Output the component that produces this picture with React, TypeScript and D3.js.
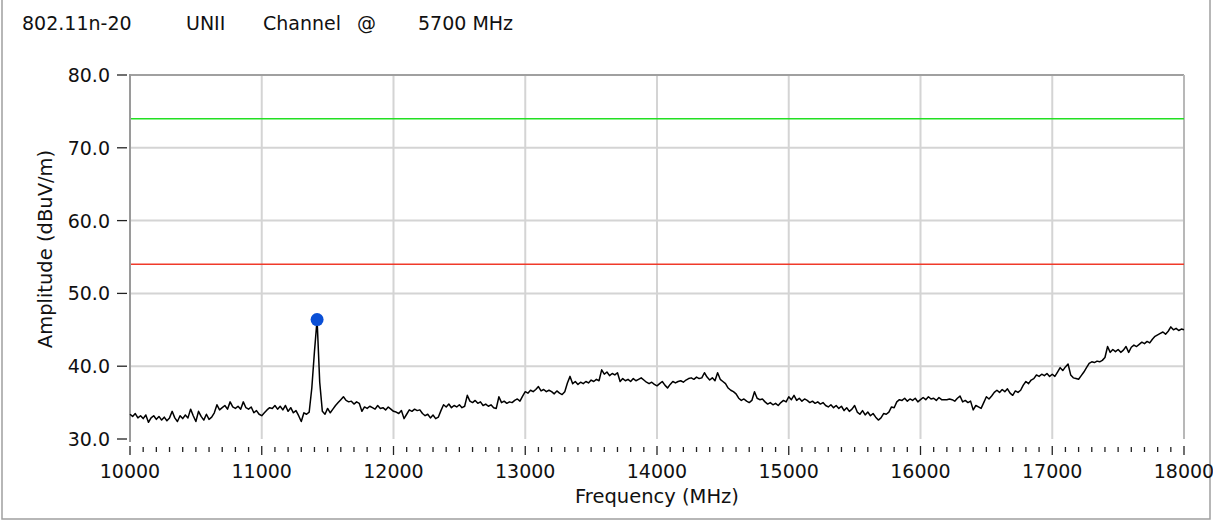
import React from "react";
import * as d3 from "d3";

// ---- data ----
const TITLE_PARTS = ["802.11n-20", "UNII", "Channel", "@", "5700 MHz"];
const X_LABEL = "Frequency (MHz)";
const Y_LABEL = "Amplitude (dBuV/m)";
const X_TICKS = [10000, 11000, 12000, 13000, 14000, 15000, 16000, 17000, 18000];
const Y_TICKS = [30, 40, 50, 60, 70, 80];
const Y_TICK_LABELS = ["30.0", "40.0", "50.0", "60.0", "70.0", "80.0"];
const FREQ_START = 10000;
const FREQ_STEP = 20;
const LIMIT_VALUES = [74, 54]; // green (peak), red (average)
const PEAK_MARKER = [11420, 46.4];

// amplitude trace, one value per 20 MHz, rows of 10 (200 MHz)
const AMPLITUDE = [
  33.4, 33.1, 33.5, 32.9, 33.2, 32.8, 33.3, 32.3, 32.9, 33.2, // 10000
  32.7, 33.1, 32.6, 33.0, 32.5, 32.9, 33.8, 32.9, 32.4, 33.2, // 10200
  32.8, 33.3, 32.9, 34.1, 33.2, 32.4, 33.8, 33.1, 32.6, 33.4, // 10400
  32.7, 33.0, 33.6, 34.7, 34.0, 34.3, 34.6, 34.1, 35.1, 34.4, // 10600
  34.2, 34.5, 34.1, 35.1, 34.3, 34.1, 34.4, 33.6, 33.9, 33.4, // 10800
  33.2, 33.6, 34.0, 34.3, 34.2, 34.6, 34.1, 34.5, 34.0, 34.6, // 11000
  33.8, 34.3, 33.6, 33.9, 33.2, 32.4, 33.6, 33.4, 33.7, 37.0, // 11200
  42.0, 46.4, 37.8, 33.8, 33.4, 34.2, 33.6, 34.1, 34.6, 35.0, // 11400
  35.4, 35.8, 35.3, 35.1, 35.2, 34.8, 35.1, 34.9, 33.8, 34.4, // 11600
  34.2, 34.5, 34.3, 34.1, 34.6, 34.2, 34.3, 34.0, 34.4, 34.1, // 11800
  33.8, 33.7, 33.5, 33.9, 32.8, 33.4, 34.0, 33.8, 34.1, 33.9, // 12000
  34.0, 33.5, 33.2, 33.4, 32.9, 33.3, 32.8, 33.0, 33.9, 34.7, // 12200
  34.4, 34.8, 34.3, 34.6, 34.4, 34.7, 34.3, 34.5, 36.0, 35.2, // 12400
  35.0, 35.3, 34.9, 35.1, 34.6, 34.8, 34.5, 34.7, 34.3, 34.2, // 12600
  35.8, 35.0, 35.2, 34.9, 35.1, 35.0, 35.3, 35.5, 35.2, 35.9, // 12800
  36.5, 36.3, 36.7, 36.5, 36.8, 37.2, 36.6, 36.8, 36.5, 36.7, // 13000
  36.5, 36.2, 36.6, 36.3, 36.1, 36.5, 37.7, 38.6, 37.6, 37.9, // 13200
  37.5, 37.8, 37.6, 37.9, 37.7, 38.1, 37.9, 38.2, 38.0, 39.5, // 13400
  38.9, 39.2, 38.7, 39.0, 38.8, 39.1, 37.9, 38.3, 38.0, 38.2, // 13600
  37.9, 38.3, 38.0, 38.2, 38.4, 38.1, 37.8, 37.6, 37.8, 37.5, // 13800
  37.3, 37.6, 37.9, 37.4, 37.0, 37.5, 37.9, 37.7, 37.9, 38.0, // 14000
  37.8, 38.1, 38.3, 38.4, 38.2, 38.5, 38.3, 38.4, 39.1, 38.5, // 14200
  38.1, 38.4, 38.0, 39.1, 38.2, 37.9, 37.6, 37.0, 36.7, 36.5, // 14400
  36.2, 35.6, 35.3, 35.5, 35.2, 35.0, 35.3, 36.5, 35.6, 35.4, // 14600
  35.5, 35.1, 34.8, 35.0, 34.7, 34.9, 34.6, 35.0, 35.3, 35.1, // 14800
  35.8, 35.4, 36.0, 35.3, 35.6, 35.2, 35.5, 35.3, 35.0, 35.2, // 15000
  34.9, 35.1, 34.8, 35.0, 34.6, 34.4, 34.7, 34.3, 34.6, 34.2, // 15200
  34.5, 33.9, 34.3, 33.8, 34.1, 34.6, 33.7, 33.4, 33.9, 33.3, // 15400
  33.7, 33.2, 33.5, 33.0, 32.6, 32.9, 33.5, 33.4, 33.7, 34.4, // 15600
  34.3, 35.1, 35.4, 35.3, 35.6, 35.2, 35.5, 35.3, 35.6, 35.1, // 15800
  35.4, 35.7, 35.4, 35.8, 35.5, 35.6, 35.3, 35.7, 35.4, 35.4, // 16000
  35.4, 35.5, 35.4, 35.2, 35.6, 35.9, 35.1, 35.3, 35.0, 35.2, // 16200
  34.0, 34.6, 34.4, 34.2, 35.0, 35.8, 35.5, 35.9, 36.4, 36.7, // 16400
  36.4, 36.8, 36.5, 36.9, 36.3, 36.0, 36.6, 36.4, 36.7, 37.4, // 16600
  37.9, 37.6, 38.1, 38.3, 38.8, 38.6, 38.9, 38.7, 39.0, 38.6, // 16800
  38.9, 38.6, 39.2, 39.8, 39.4, 39.9, 40.3, 38.8, 38.4, 38.3, // 17000
  38.2, 38.7, 39.2, 39.8, 40.4, 40.6, 40.5, 40.7, 40.6, 40.8, // 17200
  41.2, 42.7, 41.9, 42.3, 42.0, 42.3, 41.9, 42.2, 42.7, 41.9, // 17400
  42.6, 42.9, 42.7, 43.0, 43.3, 43.1, 43.4, 43.2, 43.7, 44.1, // 17600
  44.3, 44.5, 44.7, 44.4, 44.8, 45.4, 45.0, 45.2, 44.9, 45.1, // 17800
  45.0, // 18000
];

const W = 1213;
const H = 522;
const FONT = "'DejaVu Sans', Verdana, sans-serif";

export default function App() {
  const x = d3.scaleLinear().domain([10000, 18000]).range([130, 1184]);
  const y = d3.scaleLinear().domain([30, 80]).range([439, 75]);

  const points: [number, number][] = AMPLITUDE.map((v, i) => [FREQ_START + i * FREQ_STEP, v]);
  const line = d3
    .line<[number, number]>()
    .x((d) => x(d[0]))
    .y((d) => y(d[1]));

  const minorTicks = d3.range(10000, 18001, 100).filter((f) => f % 1000 !== 0);
  const limitColors = ["#22e022", "#f03a2a"];
  const titleX = [22, 186, 263, 357, 418];

  const [x0, x1] = x.range();
  const [yb, yt] = y.range();

  return (
    <svg
      width={W}
      height={H}
      style={{ position: "absolute", left: 0, top: 0, background: "#fff" }}
      fontFamily={FONT}
    >
      <rect x={0} y={0} width={W} height={H} fill="#fff" />
      {/* outer frame */}
      <path d={`M2,0 V519 H1210 V0`} fill="none" stroke="#a0a0a0" strokeWidth={1.5} />

      {/* title */}
      {TITLE_PARTS.map((t, i) => (
        <text key={t} x={titleX[i]} y={30} fontSize={19} fill="#111">
          {t}
        </text>
      ))}

      {/* grid */}
      {Y_TICKS.filter((v) => v > 30 && v < 80).map((v) => (
        <line key={"gy" + v} x1={x0} x2={x1} y1={y(v)} y2={y(v)} stroke="#d4d4d4" strokeWidth={2} />
      ))}
      {X_TICKS.filter((f) => f > 10000 && f < 18000).map((f) => (
        <line key={"gx" + f} x1={x(f)} x2={x(f)} y1={yt} y2={yb} stroke="#d4d4d4" strokeWidth={2} />
      ))}

      {/* plot frame */}
      <line x1={x0} x2={x1} y1={yt} y2={yt} stroke="#a0a0a0" strokeWidth={2} />
      <line x1={x1} x2={x1} y1={yt} y2={yb} stroke="#b8b8b8" strokeWidth={2} />
      <line x1={x0} x2={x0} y1={yt - 1} y2={yb + 3} stroke="#9a9a9a" strokeWidth={2} />

      {/* limit lines */}
      {LIMIT_VALUES.map((v, i) => (
        <line key={"lim" + v} x1={x0 + 1} x2={x1} y1={y(v)} y2={y(v)} stroke={limitColors[i]} strokeWidth={1.5} />
      ))}

      {/* trace */}
      <path d={line(points) || ""} fill="none" stroke="#000" strokeWidth={1.5} strokeLinejoin="round" />

      {/* peak marker */}
      <circle cx={x(PEAK_MARKER[0])} cy={y(PEAK_MARKER[1])} r={6.5} fill="#0a4fd6" />

      {/* y axis */}
      {Y_TICKS.map((v, i) => (
        <g key={"yt" + v}>
          <line x1={117} x2={127} y1={y(v)} y2={y(v)} stroke="#222" strokeWidth={1.3} />
          <text x={110} y={y(v) + 7} textAnchor="end" fontSize={19} fill="#111">
            {Y_TICK_LABELS[i]}
          </text>
        </g>
      ))}
      <text
        transform={`translate(52,${(yt + yb) / 2 - 8}) rotate(-90)`}
        textAnchor="middle"
        fontSize={19.5}
        fill="#111"
      >
        {Y_LABEL}
      </text>

      {/* x axis */}
      {minorTicks.map((f) => (
        <line key={"mx" + f} x1={x(f)} x2={x(f)} y1={447} y2={452} stroke="#222" strokeWidth={1.3} />
      ))}
      {X_TICKS.map((f) => (
        <g key={"xt" + f}>
          <line x1={x(f)} x2={x(f)} y1={446} y2={455} stroke="#222" strokeWidth={1.3} />
          <text x={x(f)} y={478} textAnchor="middle" fontSize={19} fill="#111">
            {f}
          </text>
        </g>
      ))}
      <text x={(x0 + x1) / 2} y={503} textAnchor="middle" fontSize={19.5} fill="#111">
        {X_LABEL}
      </text>
    </svg>
  );
}
